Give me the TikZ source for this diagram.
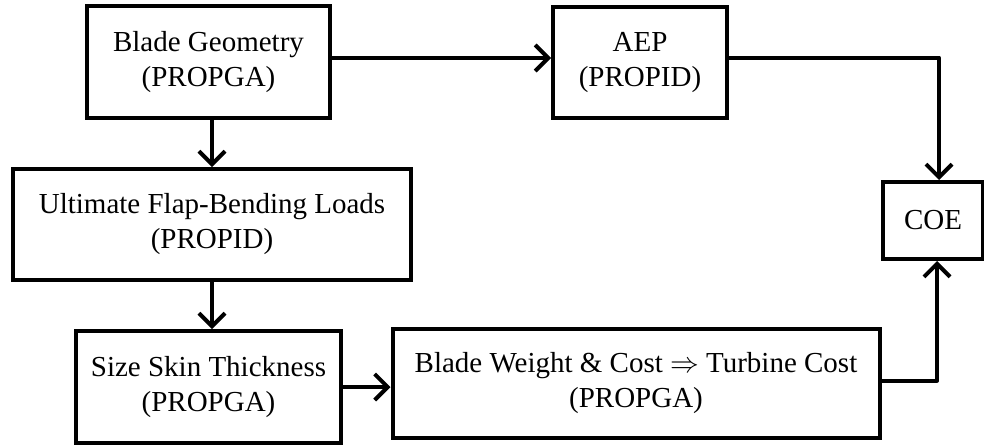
\documentclass[tikz,border=0pt]{standalone}
\usepackage{fontspec}
\setmainfont{Liberation Serif}
\usepackage{tikz}
\usetikzlibrary{positioning}
\usetikzlibrary{arrows.meta}
\tikzset{
  blk/.style={draw, line width=2pt, align=center, inner sep=2pt,
    font=\fontsize{14.5pt}{17.5pt}\selectfont},
  flow/.style={line width=2pt, -{Straight Barb[length=6.5pt,width=13pt,line width=2pt]}},
}

\begin{document}
\begin{tikzpicture}[x=0.5pt,y=-0.5pt]
\useasboundingbox (0,0) rectangle (984,446);
\node[blk, minimum width=121.5pt, minimum height=56pt] (geom) at (208.5,62) {Blade Geometry\\(PROPGA)};
\node[blk, minimum width=87pt, minimum height=55.5pt] (aep) at (640,62.5) {AEP\\(PROPID)};
\node[blk, minimum width=199pt, minimum height=55.5pt] (loads) at (212,224.5) {Ultimate Flap-Bending Loads\\(PROPID)};
\node[blk, minimum width=132.5pt, minimum height=56pt] (skin) at (208.5,387) {Size Skin Thickness\\(PROPGA)};
\node[blk, minimum width=243.5pt, minimum height=54.5pt] (cost) at (636,383.5) {Blade Weight \& Cost $\Rightarrow$ Turbine Cost\\(PROPGA)};
\node[blk, minimum width=50pt, minimum height=38.5pt] (coe) at (933,220.5) {COE};
% connectors
\draw[flow] ([yshift=2pt]geom.east) -- ([yshift=2pt]geom.east -| aep.west);
\draw[flow, line join=round] ([yshift=2.5pt]aep.east) -| ([xshift=3pt]coe.north);
\draw[flow] (geom.south -| loads.north) -- (loads.north);
\draw[flow] (loads.south) -- (loads.south |- skin.north);
\draw[flow] (skin.east) -- (skin.east -| cost.west);
\draw[flow, line join=round] ([yshift=1.5pt]cost.east) -| ([xshift=2pt]coe.south);
\end{tikzpicture}
\end{document}
